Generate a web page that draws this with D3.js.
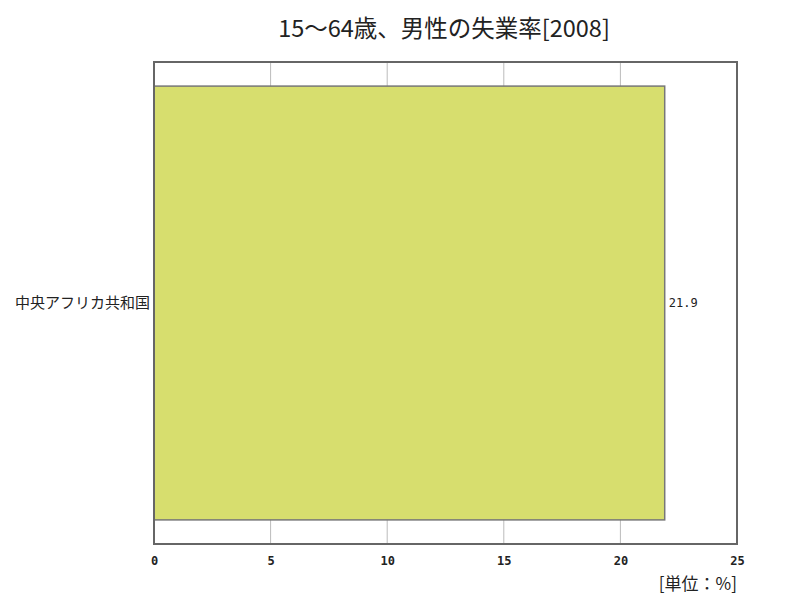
<!DOCTYPE html>
<html>
<head>
  <meta charset="utf-8">
  <script src="https://d3js.org/d3.v7.min.js"></script>
  <style>
    body { margin: 0; background: #fff; font-family: "Noto Sans CJK JP", sans-serif; }
  </style>
</head>
<body>
  <svg id="chart" width="800" height="600"></svg>
  <script>
    const categories = ["中央アフリカ共和国"];
    const values = [21.9];
    const xTicks = [0, 5, 10, 15, 20, 25];

    const svg = d3.select("#chart");
    const margin = { top: 62, right: 63, bottom: 56, left: 154 };
    const width = 800 - margin.left - margin.right;
    const height = 600 - margin.top - margin.bottom;

    svg.append("text")
      .attr("x", 444).attr("y", 37)
      .attr("text-anchor", "middle")
      .attr("font-size", 23.5)
      .attr("fill", "#222")
      .text("15～64歳、男性の失業率[2008]");

    const g = svg.append("g").attr("transform", `translate(${margin.left},${margin.top})`);

    const x = d3.scaleLinear().domain([0, 25]).range([0, width]);
    const y = d3.scaleBand().domain(categories).range([0, height]).paddingInner(0.1).paddingOuter(0.05);

    // gridlines
    g.selectAll(".grid")
      .data(xTicks.slice(1, -1))
      .enter().append("line")
      .attr("x1", d => x(d)).attr("x2", d => x(d))
      .attr("y1", 0).attr("y2", height)
      .attr("stroke", "#bbb").attr("stroke-width", 1);

    // bars
    g.selectAll(".bar")
      .data(values)
      .enter().append("rect")
      .attr("x", x(0))
      .attr("y", (d, i) => y(categories[i]))
      .attr("width", d => x(d) - x(0))
      .attr("height", y.bandwidth())
      .attr("fill", "#d7de6e")
      .attr("stroke", "#777")
      .attr("stroke-width", 1.5);

    // value labels
    g.selectAll(".val")
      .data(values)
      .enter().append("text")
      .attr("x", d => x(d) + 4)
      .attr("y", (d, i) => y(categories[i]) + y.bandwidth() / 2)
      .attr("dy", "0.35em")
      .attr("font-size", 12)
      .attr("font-family", "DejaVu Sans Mono, monospace")
      .attr("fill", "#222")
      .text(d => d.toFixed(1));

    // plot border
    g.append("rect")
      .attr("x", 0).attr("y", 0)
      .attr("width", width).attr("height", height)
      .attr("fill", "none")
      .attr("stroke", "#666").attr("stroke-width", 2);

    // x axis
    const xAxis = g.append("g")
      .attr("transform", `translate(0,${height})`)
      .call(d3.axisBottom(x).tickValues(xTicks).tickSize(0).tickPadding(12));
    xAxis.select(".domain").remove();
    xAxis.selectAll("text")
      .attr("font-size", 12)
      .attr("font-weight", "bold")
      .attr("font-family", "DejaVu Sans Mono, monospace")
      .attr("fill", "#222");

    // y axis
    const yAxis = g.append("g")
      .call(d3.axisLeft(y).tickSize(0).tickPadding(4));
    yAxis.select(".domain").remove();
    yAxis.selectAll("text")
      .attr("font-size", 15)
      .attr("font-family", "Noto Sans CJK JP, sans-serif")
      .attr("fill", "#222");

    svg.append("text")
      .attr("x", 737).attr("y", 590)
      .attr("text-anchor", "end")
      .attr("font-size", 17)
      .attr("fill", "#222")
      .text("[単位：%]");
  </script>
</body>
</html>
